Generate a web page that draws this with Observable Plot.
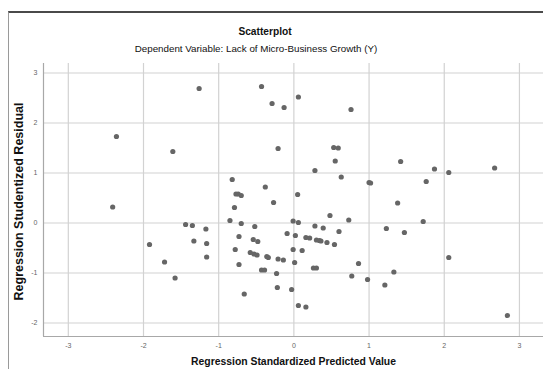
<!DOCTYPE html>
<html>
<head>
<meta charset="utf-8">
<script src="https://cdn.jsdelivr.net/npm/d3@7"></script>
<script src="https://cdn.jsdelivr.net/npm/@observablehq/plot@0.6"></script>
<style>
  body { margin: 0; background: #fff; }
  #wrap { position: relative; width: 543px; height: 369px; overflow: hidden; font-family: "Liberation Sans", Arial, sans-serif; background: #fff; }
  #frame { position: absolute; z-index: 5; left: 8px; top: 11px; width: 560px; height: 400px; border-top: 2px solid #4a4a4a; border-left: 1px solid #9a9a9a; background: transparent; pointer-events: none; }
  #title { position: absolute; left: 0; width: 530px; top: 25px; text-align: center; font-weight: bold; font-size: 10.2px; line-height: 13px; color: #111; }
  #subtitle { position: absolute; left: 0; width: 512px; top: 42px; text-align: center; font-size: 9.8px; line-height: 13px; color: #111; }
  #chart { position: absolute; left: 0; top: 55px; }
</style>
</head>
<body>
<div id="wrap">
  <div id="title">Scatterplot</div>
  <div id="subtitle">Dependent Variable: Lack of Micro-Business Growth (Y)</div>
  <div id="chart"></div>
  <div id="frame"></div>
</div>
<script>
const predicted = [
  -2.41, -2.36, -1.61, -1.26, -1.92, -1.72, -1.58, -1.44, -1.35, -1.33, -1.17, -1.16, -1.16,
  -0.82, -0.77, -0.74, -0.70, -0.79, -0.85, -0.70, -0.52, -0.73, -0.54, -0.48, -0.78, -0.58,
  -0.53, -0.49, -0.36, -0.34, -0.21, -0.14, -0.73, -0.43, -0.39, -0.23, -0.22, -0.66, -0.03,
  0.06, 0.16, -0.38, -0.27, -0.43, -0.29, -0.13, 0.06, 0.76, -0.21,
  0.53, 0.59, 0.55, 0.28, 0.63, 1.00, 1.02, 0.05, 0.48, 0.73, -0.01, 0.06, 0.28, 0.39, 0.60,
  -0.09, 0.02, 0.16, 0.21, 0.30, 0.34, 0.36, 0.44, 0.54, -0.01, 0.11, 0.01, 0.26, 0.30, 0.86,
  0.77, 0.98,
  1.42, 1.87, 2.06, 2.67, 1.76, 1.38, 1.72, 1.23, 1.47, 2.06, 1.33, 1.21, 2.84
];
const residual = [
  0.32, 1.73, 1.43, 2.69, -0.43, -0.78, -1.10, -0.03, -0.05, -0.36, -0.12, -0.41, -0.68,
  0.87, 0.58, 0.58, 0.55, 0.31, 0.05, -0.01, -0.07, -0.27, -0.33, -0.37, -0.53, -0.59,
  -0.62, -0.64, -0.67, -0.69, -0.72, -0.74, -0.83, -0.94, -0.94, -1.01, -1.29, -1.42, -1.33,
  -1.65, -1.68, 0.72, 0.41, 2.73, 2.39, 2.31, 2.52, 2.27, 1.49,
  1.51, 1.50, 1.24, 1.05, 0.92, 0.81, 0.80, 0.57, 0.15, 0.06, 0.04, 0.01, -0.06, -0.10, -0.17,
  -0.21, -0.25, -0.29, -0.30, -0.34, -0.35, -0.36, -0.39, -0.43, -0.53, -0.55, -0.79, -0.90, -0.90, -0.81,
  -1.06, -1.13,
  1.23, 1.08, 1.01, 1.10, 0.83, 0.40, 0.03, -0.11, -0.19, -0.69, -0.98, -1.24, -1.85
];
const xTicks = [-3, -2, -1, 0, 1, 2, 3];
const yTicks = [-2, -1, 0, 1, 2, 3];
const xDomain = [-3.33, 3.32];
const yDomain = [-2.27, 3.19];
const xTitle = "Regression Standardized Predicted Value";
const yTitle = "Regression Studentized Residual";

const data = predicted.map((x, i) => ({x, y: residual[i]}));

const chart = Plot.plot({
  width: 543,
  height: 314,
  marginLeft: 43,
  marginRight: 0,
  marginTop: 8,
  marginBottom: 33,
  style: {fontFamily: "'Liberation Sans', Arial, sans-serif", background: "transparent", overflow: "visible"},
  x: {domain: xDomain, axis: null},
  y: {domain: yDomain, axis: null},
  marks: [
    Plot.ruleX(xTicks, {stroke: "#d2d2d2", strokeWidth: 1.2}),
    Plot.ruleY(yTicks, {stroke: "#d2d2d2", strokeWidth: 1.2}),
    Plot.ruleX([xDomain[0]], {stroke: "#a8a8a8", strokeWidth: 1.2}),
    Plot.ruleY([yDomain[0]], {stroke: "#a8a8a8", strokeWidth: 1.2}),
    Plot.dot(data, {x: "x", y: "y", r: 2.6, fill: "#666", stroke: "none"}),
    Plot.axisX(xTicks, {tickSize: 0, tickPadding: 7, fontSize: 7, fill: "#666", tickFormat: d => String(d), label: null}),
    Plot.axisY(yTicks, {tickSize: 0, tickPadding: 6, fontSize: 7, fill: "#666", tickFormat: d => String(d), label: null}),
    Plot.text([xTitle], {text: d => d, frameAnchor: "bottom", lineAnchor: "top", dy: 21, fontSize: 10.4, fontWeight: "bold", fill: "#111"}),
    Plot.text([yTitle], {text: d => d, frameAnchor: "left", textAnchor: "middle", dx: -25, dy: 1.5, rotate: -90, fontSize: 12.5, fontWeight: "bold", fill: "#111"})
  ]
});
document.getElementById("chart").appendChild(chart);
</script>
</body>
</html>
